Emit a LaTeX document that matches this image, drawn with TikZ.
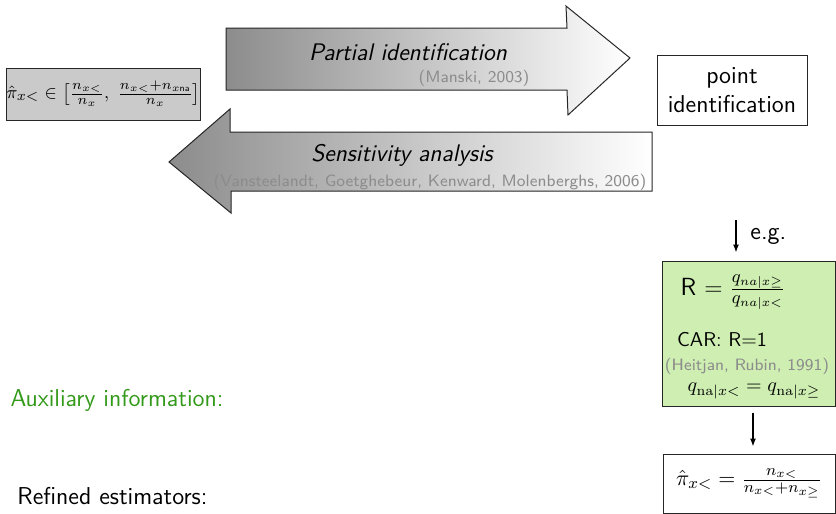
\documentclass[tikz,border=0pt]{standalone}
\usepackage{amsmath}
\usetikzlibrary{arrows.meta}
\definecolor{boxgray}{RGB}{202,202,202}
\definecolor{shadedark}{RGB}{140,140,140}
\definecolor{citegray}{RGB}{140,140,140}
\definecolor{greenfill}{RGB}{206,238,178}
\definecolor{auxgreen}{RGB}{51,153,26}
\tikzset{
  base/.style={font=\sffamily\fontsize{12.2}{14.5}\selectfont, inner sep=0pt},
  small/.style={font=\sffamily\fontsize{10}{12}\selectfont, inner sep=0pt},
  graybox/.style={draw=black!85, fill=boxgray, line width=0.5pt, inner sep=0pt},
  whitebox/.style={draw=black!85, fill=white, line width=0.5pt, inner sep=0pt},
  greenbox/.style={draw=black!85, fill=greenfill, line width=0.5pt, inner sep=0pt},
  bigtext/.style={font=\sffamily\itshape\fontsize{12}{14}\selectfont, inner sep=0pt},
  cite/.style={font=\sffamily\fontsize{8.2}{10}\selectfont, text=citegray, inner sep=0pt},
  blockarrow/.style={draw=black!85, line width=0.5pt, left color=shadedark, right color=white},
  arr/.style={-{Latex[length=4pt,width=3pt]}, line width=0.6pt},
}
\begin{document}
\begin{tikzpicture}[x=0.5pt,y=-0.5pt]
\useasboundingbox (0,0) rectangle (836,514);
% block arrows
\shade[blockarrow] (226,28) -- (567,28) -- (566,6) -- (630,58) -- (568,115) -- (567,90) -- (226,90) -- cycle;
\shade[blockarrow] (652,132) -- (230,132) -- (230,109) -- (169,162) -- (231,213) -- (231,191) -- (652,191) -- cycle;
\node[bigtext] (pi) at (408,52) {Partial identification};
\node[cite] (manski) at (474,78) {(Manski, 2003)};
\node[bigtext] (sa) at (402,155) {Sensitivity analysis};
\node[cite] (vans) at (430,182) {(Vansteelandt, Goetghebeur, Kenward, Molenberghs, 2006)};
% left box
\node[graybox, minimum width=96.5pt, minimum height=26pt, font=\fontsize{9.3}{12}\selectfont] (bounds) at (103.5,94)
  {$\hat{\pi}_{x<}\in\bigl[\frac{n_{x<}}{n_x},\;\frac{n_{x<}+n_{x\textsf{na}}}{n_x}\bigr]$};
% point identification
\node[whitebox, base, minimum width=75pt, minimum height=35pt, align=center] (point) at (732,90)
  {point\\identification};
% green box
\node[greenbox, minimum width=86.5pt, minimum height=72.5pt] (car) at (748.5,333.5) {};
\node[font=\sffamily\fontsize{12.4}{15}\selectfont, inner sep=0pt] (rdef) at (733,292) {R $=\frac{q_{na|x\geq}}{q_{na|x<}}$};
\node[small] (carr) at (722,340) {CAR: R$=$1};
\node[cite] (heit) at (747,366) {(Heitjan, Rubin, 1991)};
\node[font=\fontsize{10.1}{12}\selectfont, inner sep=0pt] (qeq) at (754,391) {$q_{\mathrm{na}|x<}=q_{\mathrm{na}|x\geq}$};
% result box
\node[whitebox, minimum width=86pt, minimum height=29.5pt, font=\fontsize{11.4}{13}\selectfont] (res) at (749,483.5)
  {$\hat{\pi}_{x<}=\frac{n_{x<}}{n_{x<}+n_{x\geq}}$};
% arrows
\coordinate (egstart) at (736,220);
\draw[arr, shorten >=4pt] (egstart) -- (egstart |- car.north);
\node[base, anchor=west] (eg) at (750,236) {e.g.};
\coordinate (a2) at (753,406);
\draw[arr, shorten <=3pt, shorten >=3.5pt] (a2 |- car.south) -- (a2 |- res.north);
% labels
\node[base, text=auxgreen] (aux) at (117,400) {Auxiliary information:};
\node[base] (refined) at (112.5,496) {Refined estimators:};
\end{tikzpicture}
\end{document}
